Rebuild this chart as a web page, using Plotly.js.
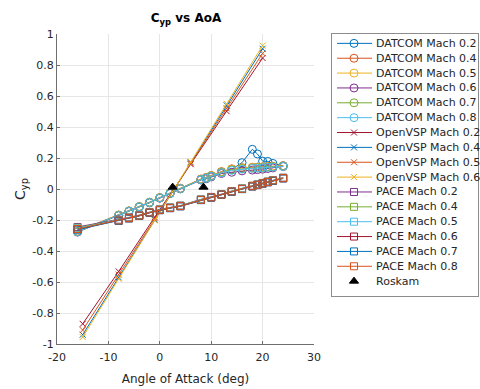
<!DOCTYPE html>
<html><head><meta charset="utf-8">
<script src="https://cdn.plot.ly/plotly-3.0.1.min.js"></script>
<style>body{margin:0;background:#fff}#chart{width:480px;height:389px}</style>
</head><body><div id="chart"></div>
<script>
// ---- data ----
const aoaDatcom = [-16,-8,-6,-4,-2,0,2,4,8,9,10,12,14,16,18,19,20,21,22,24];
const datcomM02 = [-0.275,-0.170,-0.143,-0.115,-0.087,-0.057,-0.027,0.003,0.062,0.072,0.085,0.110,0.127,0.170,0.256,0.226,0.180,0.178,0.165,0.150];
const datcomM04 = [-0.272,-0.168,-0.141,-0.113,-0.085,-0.055,-0.025,0.005,0.064,0.074,0.087,0.112,0.130,0.138,0.140,0.141,0.143,0.145,0.147,0.150];
const datcomM05 = [-0.274,-0.169,-0.142,-0.114,-0.086,-0.056,-0.026,0.004,0.063,0.073,0.086,0.111,0.128,0.136,0.139,0.140,0.142,0.144,0.146,0.149];
const datcomM06 = [-0.278,-0.172,-0.145,-0.117,-0.089,-0.059,-0.029,0.001,0.058,0.066,0.078,0.100,0.108,0.117,0.122,0.125,0.128,0.132,0.136,0.145];
const datcomM07 = [-0.276,-0.171,-0.144,-0.116,-0.088,-0.058,-0.028,0.002,0.061,0.071,0.083,0.107,0.123,0.131,0.135,0.137,0.139,0.141,0.143,0.147];
const datcomM08 = [-0.275,-0.170,-0.143,-0.115,-0.087,-0.057,-0.027,0.003,0.060,0.070,0.082,0.105,0.120,0.128,0.133,0.135,0.137,0.140,0.142,0.146];

const aoaOpenvsp = [-15,-8,-1,6,13,20];
const openvspM02 = [-0.870,-0.532,-0.182,0.160,0.502,0.845];
const openvspM04 = [-0.940,-0.570,-0.198,0.172,0.540,0.905];
const openvspM05 = [-0.910,-0.552,-0.190,0.166,0.520,0.875];
const openvspM06 = [-0.955,-0.580,-0.202,0.176,0.550,0.925];

const aoaPace = [-16,-8,-6,-4,-2,0,2,4,8,10,12,14,16,18,19,20,21,22,24];
const paceM02 = [-0.245,-0.198,-0.183,-0.168,-0.148,-0.131,-0.119,-0.107,-0.067,-0.051,-0.033,-0.013,0.004,0.021,0.030,0.039,0.048,0.057,0.073];
const paceM04 = [-0.250,-0.200,-0.185,-0.170,-0.150,-0.133,-0.120,-0.108,-0.068,-0.052,-0.034,-0.014,0.003,0.020,0.029,0.038,0.047,0.056,0.072];
const paceM05 = [-0.255,-0.202,-0.187,-0.171,-0.151,-0.134,-0.121,-0.109,-0.069,-0.053,-0.035,-0.015,0.002,0.019,0.028,0.037,0.046,0.055,0.071];
const paceM06 = [-0.260,-0.205,-0.189,-0.173,-0.153,-0.136,-0.123,-0.111,-0.071,-0.055,-0.037,-0.017,0.000,0.017,0.026,0.035,0.044,0.053,0.069];
const paceM07 = [-0.262,-0.206,-0.190,-0.174,-0.154,-0.137,-0.124,-0.112,-0.072,-0.056,-0.038,-0.018,-0.001,0.016,0.025,0.034,0.043,0.052,0.068];
const paceM08 = [-0.258,-0.203,-0.188,-0.172,-0.152,-0.135,-0.122,-0.110,-0.070,-0.054,-0.036,-0.016,0.001,0.018,0.027,0.036,0.045,0.055,0.070];

const roskamAoa = [2.5, 8.5];
const roskamCyp = [0.012, 0.012];

const xTickVals = [-20,-10,0,10,20,30];
const xTickText = ['-20','-10','0','10','20','30'];
const yTickVals = [-1,-0.8,-0.6,-0.4,-0.2,0,0.2,0.4,0.6,0.8,1];
const yTickText = ['-1','-0.8','-0.6','-0.4','-0.2','0','0.2','0.4','0.6','0.8','1'];

// ---- styles ----
const C = {blue:'#0072BD', orange:'#D95319', yellow:'#EDB120', purple:'#7E2F8E', green:'#77AC30', lblue:'#4DBEEE', red:'#A2142F'};
const CIR = {symbol:'circle-open', size:8};
const XM = {symbol:'x-thin-open', size:6};
const SQ = {symbol:'square-open', size:7};

const series = [
  {name:'DATCOM Mach 0.2', x:aoaDatcom, y:datcomM02, color:C.blue, m:CIR},
  {name:'DATCOM Mach 0.4', x:aoaDatcom, y:datcomM04, color:C.orange, m:CIR},
  {name:'DATCOM Mach 0.5', x:aoaDatcom, y:datcomM05, color:C.yellow, m:CIR},
  {name:'DATCOM Mach 0.6', x:aoaDatcom, y:datcomM06, color:C.purple, m:CIR},
  {name:'DATCOM Mach 0.7', x:aoaDatcom, y:datcomM07, color:C.green, m:CIR},
  {name:'DATCOM Mach 0.8', x:aoaDatcom, y:datcomM08, color:C.lblue, m:CIR},
  {name:'OpenVSP Mach 0.2', x:aoaOpenvsp, y:openvspM02, color:C.red, m:XM},
  {name:'OpenVSP Mach 0.4', x:aoaOpenvsp, y:openvspM04, color:C.blue, m:XM},
  {name:'OpenVSP Mach 0.5', x:aoaOpenvsp, y:openvspM05, color:C.orange, m:XM},
  {name:'OpenVSP Mach 0.6', x:aoaOpenvsp, y:openvspM06, color:C.yellow, m:XM},
  {name:'PACE Mach 0.2', x:aoaPace, y:paceM02, color:C.purple, m:SQ},
  {name:'PACE Mach 0.4', x:aoaPace, y:paceM04, color:C.green, m:SQ},
  {name:'PACE Mach 0.5', x:aoaPace, y:paceM05, color:C.lblue, m:SQ},
  {name:'PACE Mach 0.6', x:aoaPace, y:paceM06, color:C.red, m:SQ},
  {name:'PACE Mach 0.7', x:aoaPace, y:paceM07, color:C.blue, m:SQ},
  {name:'PACE Mach 0.8', x:aoaPace, y:paceM08, color:C.orange, m:SQ},
  {name:'Roskam', x:roskamAoa, y:roskamCyp, color:'#000000', m:{symbol:'triangle-up', size:8}, noLine:true}
];

const traces = [];
series.forEach(s => {
  traces.push({
    type:'scatter', x:s.x, y:s.y, xaxis:'x', yaxis:'y',
    mode: s.noLine ? 'markers' : 'lines+markers',
    line:{color:s.color, width:1},
    marker:{symbol:s.m.symbol, size:s.m.size, color:s.color, line:{color:s.color, width:1}},
    showlegend:false, hoverinfo:'skip'
  });
});

// manual legend drawn in its own axes (1 unit = 1 px horizontally, 1 entry vertically)
const annotations = [];
series.forEach((s, i) => {
  if (!s.noLine) {
    traces.push({type:'scatter', x:[5,40], y:[i,i], xaxis:'x2', yaxis:'y2', mode:'lines',
      line:{color:s.color, width:1}, showlegend:false, hoverinfo:'skip'});
  }
  traces.push({type:'scatter', x:[22], y:[i], xaxis:'x2', yaxis:'y2', mode:'markers',
    marker:{symbol:s.m.symbol, size:s.m.size, color:s.color, line:{color:s.color, width:1}},
    showlegend:false, hoverinfo:'skip'});
  annotations.push({xref:'x2', yref:'y2', x:42, y:i, text:s.name, showarrow:false,
    xanchor:'left', yanchor:'middle', font:{size:11, color:'#262626'}});
});

const plotW = 480 - 57 - 2;
const layout = {
  width:480, height:389,
  margin:{l:57, r:2, t:34, b:45, pad:0},
  paper_bgcolor:'#ffffff', plot_bgcolor:'#ffffff',
  font:{family:'DejaVu Sans, sans-serif', color:'#262626', size:11},
  title:{text:'<b>C<sub>yp</sub> vs AoA</b>', x:186/480, xanchor:'center', y:1-18/389, yanchor:'middle',
    font:{size:12, color:'#000000'}},
  showlegend:false, hovermode:false,
  xaxis:{domain:[0, 257/plotW], range:[-20,30], tickvals:xTickVals, ticktext:xTickText,
    showgrid:true, gridcolor:'#e6e6e6', gridwidth:1, zeroline:false,
    showline:true, linecolor:'#6e6e6e', linewidth:1, ticks:'inside', ticklen:3, tickcolor:'#6e6e6e',
    tickfont:{size:11, color:'#262626'}, ticklabelstandoff:3,
    title:{text:'Angle of Attack (deg)', font:{size:12, color:'#262626'}, standoff:11}},
  yaxis:{domain:[0,1], range:[-1,1], tickvals:yTickVals, ticktext:yTickText,
    showgrid:true, gridcolor:'#e6e6e6', gridwidth:1, zeroline:false,
    showline:true, linecolor:'#6e6e6e', linewidth:1, ticks:'inside', ticklen:3, tickcolor:'#6e6e6e',
    tickfont:{size:11, color:'#262626'},
    title:{text:'C<sub>yp</sub>', font:{size:14, color:'#262626'}, standoff:3}},
  xaxis2:{domain:[(332-57)/plotW, 1], anchor:'y2', range:[0,146], showgrid:false, zeroline:false,
    showticklabels:false, ticks:'', showline:true, mirror:true, linecolor:'#8c8c8c', linewidth:1, fixedrange:true},
  yaxis2:{domain:[(344-296)/310, 1], anchor:'x2', range:[17.0, -0.63], showgrid:false, zeroline:false,
    showticklabels:false, ticks:'', showline:true, mirror:true, linecolor:'#8c8c8c', linewidth:1, fixedrange:true},
  annotations:annotations
};

Plotly.newPlot('chart', traces, layout, {staticPlot:true, displayModeBar:false});
</script>
</body></html>
